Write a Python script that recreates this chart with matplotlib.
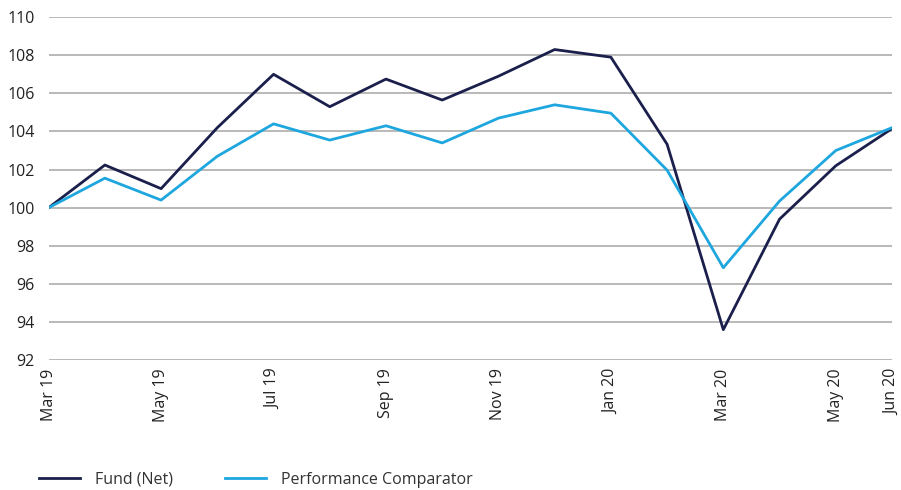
import matplotlib
matplotlib.use('Agg')
import matplotlib.pyplot as plt
from matplotlib.lines import Line2D

months = ['Mar 19', 'Apr 19', 'May 19', 'Jun 19', 'Jul 19', 'Aug 19', 'Sep 19', 'Oct 19',
          'Nov 19', 'Dec 19', 'Jan 20', 'Feb 20', 'Mar 20', 'Apr 20', 'May 20', 'Jun 20']
fund = [100, 102.24, 101.0, 104.2, 107.0, 105.3, 106.75, 105.65,
        106.9, 108.3, 107.9, 103.33, 93.6, 99.4, 102.2, 104.15]
comparator = [100, 101.55, 100.4, 102.7, 104.4, 103.55, 104.3, 103.4,
              104.7, 105.4, 104.96, 101.97, 96.85, 100.35, 103.0, 104.2]
shown = ['Mar 19', 'May 19', 'Jul 19', 'Sep 19', 'Nov 19', 'Jan 20', 'Mar 20', 'May 20', 'Jun 20']

navy = '#1b1f4b'
blue = '#1ea6df'

plt.rcParams['font.family'] = ['Open Sans', 'DejaVu Sans']

fig = plt.figure(figsize=(9.01, 4.9), dpi=100)
ax = fig.add_axes([0.054, 0.265, 0.936, 0.7])

x = list(range(len(months)))
ax.plot(x, fund, color=navy, lw=2, label='Fund (Net)')
ax.plot(x, comparator, color=blue, lw=2, label='Performance Comparator')

ax.set_xlim(0, len(months) - 1)
ax.set_ylim(92, 110)
ax.set_yticks(range(92, 111, 2))
ax.set_xticks([months.index(m) for m in shown])
ax.set_xticklabels(shown, rotation=90)
ax.tick_params(axis='both', length=0, labelsize=11.5, labelcolor='#222222')
ax.tick_params(axis='x', pad=6)
ax.tick_params(axis='y', pad=10)

ax.yaxis.grid(True, color='#b3b3b3', lw=1.3)
ax.set_axisbelow(True)
for s in ax.spines.values():
    s.set_visible(False)

handles = [Line2D([], [], color=navy, lw=2), Line2D([], [], color=blue, lw=2)]
fig.legend(handles, ['Fund (Net)', 'Performance Comparator'], loc='lower left',
           bbox_to_anchor=(0.027, -0.025), ncol=2, frameon=False, fontsize=11.5,
           handlelength=2.6, handletextpad=0.95, columnspacing=3.2,
           labelcolor='#333333')

fig.savefig('out.png', dpi=100)
